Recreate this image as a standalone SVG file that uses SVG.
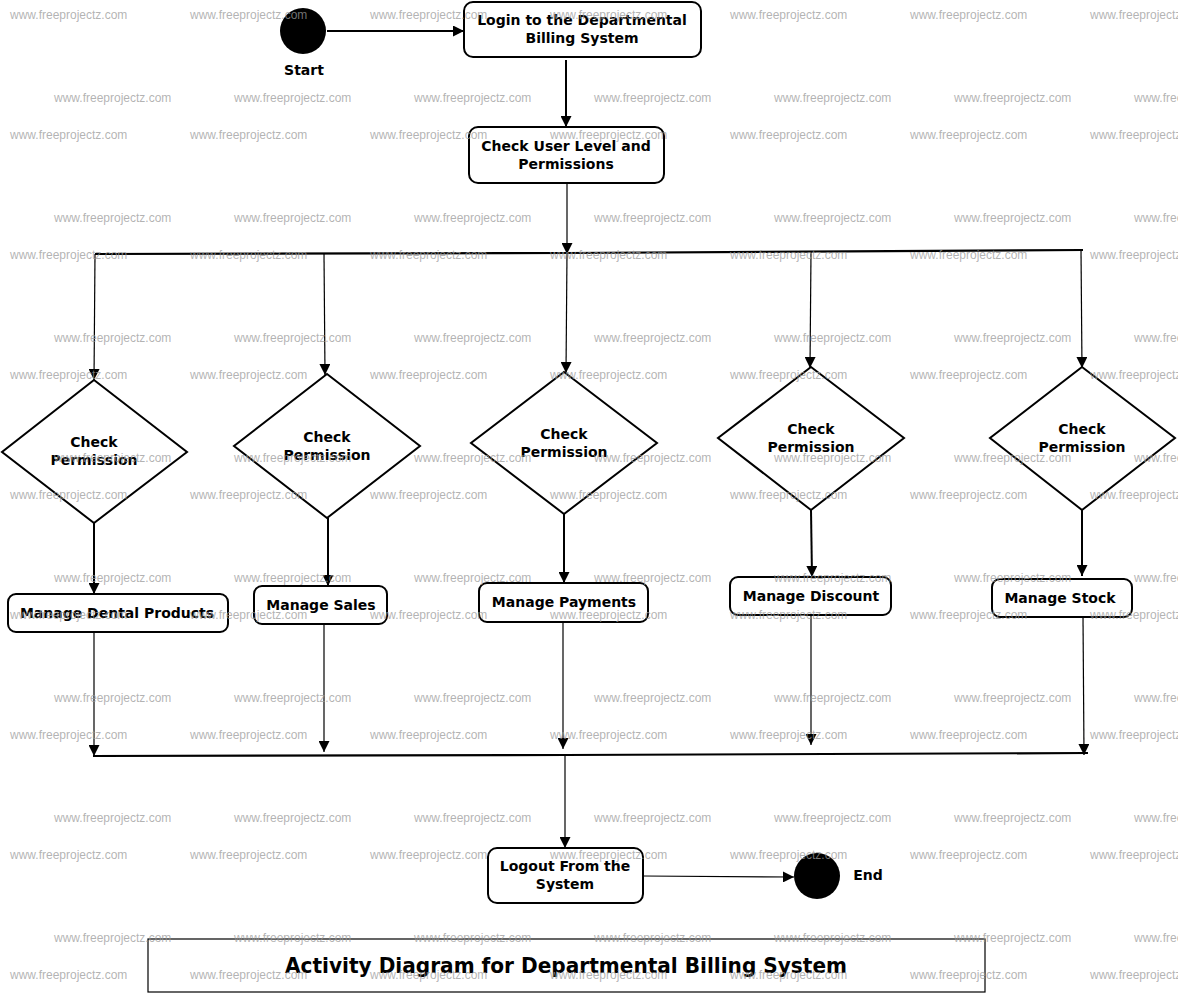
<svg xmlns="http://www.w3.org/2000/svg" width="1178" height="994" viewBox="0 0 1178 994">
<style>
.box{fill:#fff;stroke:#000;stroke-width:2}
.dia{fill:#fff;stroke:#000;stroke-width:2}
.t{font-family:"DejaVu Sans","Liberation Sans",sans-serif;font-weight:bold;font-size:14px;text-anchor:middle;fill:#000}
.thick{fill:none;stroke:#000;stroke-width:2}
.thin{fill:none;stroke:#000;stroke-width:1.2}
.bar{fill:none;stroke:#000;stroke-width:2.2}
.wm{font-family:"Liberation Sans",Arial,sans-serif;font-size:12px;fill:#9a9a9a;fill-opacity:0.75}
</style>
<defs>
<marker id="ah" viewBox="0 0 10 10" refX="10" refY="5" markerWidth="11" markerHeight="11" markerUnits="userSpaceOnUse" orient="auto">
<path d="M0,0 L10,5 L0,10 z" fill="#000"/>
</marker>
</defs>
<rect width="1178" height="994" fill="#fff"/>

<g id="connectors">
<line class="thick" x1="327" y1="31" x2="464" y2="31" marker-end="url(#ah)"/>
<line class="thick" x1="566" y1="60" x2="566" y2="127" marker-end="url(#ah)"/>
<line class="thin" x1="567" y1="183" x2="567" y2="254" marker-end="url(#ah)"/>
<polyline class="bar" points="95,254 567,253 1083,250"/>
<line class="thin" x1="95" y1="254" x2="94" y2="380" marker-end="url(#ah)"/>
<line class="thin" x1="324" y1="254" x2="325" y2="375" marker-end="url(#ah)"/>
<line class="thin" x1="567" y1="253" x2="566" y2="373" marker-end="url(#ah)"/>
<line class="thin" x1="811" y1="252" x2="810" y2="368" marker-end="url(#ah)"/>
<line class="thin" x1="1081" y1="250" x2="1082" y2="368" marker-end="url(#ah)"/>
<line class="thick" x1="94" y1="523" x2="94" y2="594" marker-end="url(#ah)"/>
<line class="thick" x1="328" y1="518" x2="328" y2="586" marker-end="url(#ah)"/>
<line class="thick" x1="564" y1="514" x2="564" y2="583" marker-end="url(#ah)"/>
<line class="thick" x1="811" y1="510" x2="812" y2="577" marker-end="url(#ah)"/>
<line class="thick" x1="1082" y1="510" x2="1082" y2="576" marker-end="url(#ah)"/>
<line class="thin" x1="94" y1="632" x2="94" y2="756" marker-end="url(#ah)"/>
<line class="thin" x1="324" y1="624" x2="324" y2="752" marker-end="url(#ah)"/>
<line class="thin" x1="563" y1="622" x2="563" y2="749" marker-end="url(#ah)"/>
<line class="thin" x1="811" y1="615" x2="811" y2="745" marker-end="url(#ah)"/>
<line class="thin" x1="1083" y1="617" x2="1084" y2="755" marker-end="url(#ah)"/>
<polyline class="bar" points="93,756 565,755 1088,753"/>
<line class="thin" x1="565" y1="755" x2="565" y2="848" marker-end="url(#ah)"/>
<line class="thin" x1="643" y1="876" x2="794" y2="877" marker-end="url(#ah)"/>
</g>

<g id="start">
<circle cx="303" cy="31" r="23" fill="#000"/>
<text class="t" x="304" y="75">Start</text>
</g>
<g id="login">
<rect class="box" x="464" y="2" width="237" height="55" rx="9"/>
<text class="t" x="582" y="25">Login to the Departmental</text>
<text class="t" x="582" y="43">Billing System</text>
</g>
<g id="checkUser">
<rect class="box" x="469" y="127" width="195" height="56" rx="9"/>
<text class="t" x="566" y="151">Check User Level and</text>
<text class="t" x="566" y="169">Permissions</text>
</g>

<g id="perm1">
<polygon class="dia" points="94,380 187,452 94,523 2,452"/>
<text class="t" x="94" y="447">Check</text>
<text class="t" x="94" y="465">Permission</text>
</g>
<g id="perm2">
<polygon class="dia" points="327,374 420,446 327,518 234,446"/>
<text class="t" x="327" y="442">Check</text>
<text class="t" x="327" y="460">Permission</text>
</g>
<g id="perm3">
<polygon class="dia" points="564,372 657,443 564,514 471,443"/>
<text class="t" x="564" y="439">Check</text>
<text class="t" x="564" y="457">Permission</text>
</g>
<g id="perm4">
<polygon class="dia" points="811,367 904,438 811,510 718,438"/>
<text class="t" x="811" y="434">Check</text>
<text class="t" x="811" y="452">Permission</text>
</g>
<g id="perm5">
<polygon class="dia" points="1082,367 1175,438 1082,510 990,438"/>
<text class="t" x="1082" y="434">Check</text>
<text class="t" x="1082" y="452">Permission</text>
</g>

<g id="dental">
<rect class="box" x="8" y="594" width="220" height="38" rx="8"/>
<text class="t" x="117" y="618">Manage Dental Products</text>
</g>
<g id="sales">
<rect class="box" x="254" y="586" width="133" height="38" rx="8"/>
<text class="t" x="321" y="610">Manage Sales</text>
</g>
<g id="payments">
<rect class="box" x="479" y="583" width="169" height="39" rx="8"/>
<text class="t" x="564" y="607">Manage Payments</text>
</g>
<g id="discount">
<rect class="box" x="730" y="577" width="161" height="38" rx="8"/>
<text class="t" x="811" y="601">Manage Discount</text>
</g>
<g id="stock">
<rect class="box" x="992" y="579" width="140" height="38" rx="8"/>
<text class="t" x="1060" y="603">Manage Stock</text>
</g>

<g id="logout">
<rect class="box" x="488" y="848" width="155" height="55" rx="9"/>
<text class="t" x="565" y="871">Logout From the</text>
<text class="t" x="565" y="889">System</text>
</g>
<g id="end">
<circle cx="817" cy="876" r="23" fill="#000"/>
<text class="t" x="868" y="880">End</text>
</g>

<g id="title">
<rect x="148" y="939" width="837" height="53" fill="#fff" stroke="#000" stroke-width="1.2"/>
<text x="566" y="973" font-family="'DejaVu Sans Condensed','DejaVu Sans',sans-serif" font-weight="bold" font-size="21" text-anchor="middle" textLength="562" lengthAdjust="spacingAndGlyphs">Activity Diagram for Departmental Billing System</text>
</g>

<g id="watermarks" class="wm">
<text x="10" y="19">www.freeprojectz.com</text><text x="190" y="19">www.freeprojectz.com</text><text x="370" y="19">www.freeprojectz.com</text><text x="550" y="19">www.freeprojectz.com</text><text x="730" y="19">www.freeprojectz.com</text><text x="910" y="19">www.freeprojectz.com</text><text x="1090" y="19">www.freeprojectz.com</text>
<text x="54" y="102">www.freeprojectz.com</text><text x="234" y="102">www.freeprojectz.com</text><text x="414" y="102">www.freeprojectz.com</text><text x="594" y="102">www.freeprojectz.com</text><text x="774" y="102">www.freeprojectz.com</text><text x="954" y="102">www.freeprojectz.com</text><text x="1134" y="102">www.freeprojectz.com</text>
<text x="10" y="139">www.freeprojectz.com</text><text x="190" y="139">www.freeprojectz.com</text><text x="370" y="139">www.freeprojectz.com</text><text x="550" y="139">www.freeprojectz.com</text><text x="730" y="139">www.freeprojectz.com</text><text x="910" y="139">www.freeprojectz.com</text><text x="1090" y="139">www.freeprojectz.com</text>
<text x="54" y="222">www.freeprojectz.com</text><text x="234" y="222">www.freeprojectz.com</text><text x="414" y="222">www.freeprojectz.com</text><text x="594" y="222">www.freeprojectz.com</text><text x="774" y="222">www.freeprojectz.com</text><text x="954" y="222">www.freeprojectz.com</text><text x="1134" y="222">www.freeprojectz.com</text>
<text x="10" y="259">www.freeprojectz.com</text><text x="190" y="259">www.freeprojectz.com</text><text x="370" y="259">www.freeprojectz.com</text><text x="550" y="259">www.freeprojectz.com</text><text x="730" y="259">www.freeprojectz.com</text><text x="910" y="259">www.freeprojectz.com</text><text x="1090" y="259">www.freeprojectz.com</text>
<text x="54" y="342">www.freeprojectz.com</text><text x="234" y="342">www.freeprojectz.com</text><text x="414" y="342">www.freeprojectz.com</text><text x="594" y="342">www.freeprojectz.com</text><text x="774" y="342">www.freeprojectz.com</text><text x="954" y="342">www.freeprojectz.com</text><text x="1134" y="342">www.freeprojectz.com</text>
<text x="10" y="379">www.freeprojectz.com</text><text x="190" y="379">www.freeprojectz.com</text><text x="370" y="379">www.freeprojectz.com</text><text x="550" y="379">www.freeprojectz.com</text><text x="730" y="379">www.freeprojectz.com</text><text x="910" y="379">www.freeprojectz.com</text><text x="1090" y="379">www.freeprojectz.com</text>
<text x="54" y="462">www.freeprojectz.com</text><text x="234" y="462">www.freeprojectz.com</text><text x="414" y="462">www.freeprojectz.com</text><text x="594" y="462">www.freeprojectz.com</text><text x="774" y="462">www.freeprojectz.com</text><text x="954" y="462">www.freeprojectz.com</text><text x="1134" y="462">www.freeprojectz.com</text>
<text x="10" y="499">www.freeprojectz.com</text><text x="190" y="499">www.freeprojectz.com</text><text x="370" y="499">www.freeprojectz.com</text><text x="550" y="499">www.freeprojectz.com</text><text x="730" y="499">www.freeprojectz.com</text><text x="910" y="499">www.freeprojectz.com</text><text x="1090" y="499">www.freeprojectz.com</text>
<text x="54" y="582">www.freeprojectz.com</text><text x="234" y="582">www.freeprojectz.com</text><text x="414" y="582">www.freeprojectz.com</text><text x="594" y="582">www.freeprojectz.com</text><text x="774" y="582">www.freeprojectz.com</text><text x="954" y="582">www.freeprojectz.com</text><text x="1134" y="582">www.freeprojectz.com</text>
<text x="10" y="619">www.freeprojectz.com</text><text x="190" y="619">www.freeprojectz.com</text><text x="370" y="619">www.freeprojectz.com</text><text x="550" y="619">www.freeprojectz.com</text><text x="730" y="619">www.freeprojectz.com</text><text x="910" y="619">www.freeprojectz.com</text><text x="1090" y="619">www.freeprojectz.com</text>
<text x="54" y="702">www.freeprojectz.com</text><text x="234" y="702">www.freeprojectz.com</text><text x="414" y="702">www.freeprojectz.com</text><text x="594" y="702">www.freeprojectz.com</text><text x="774" y="702">www.freeprojectz.com</text><text x="954" y="702">www.freeprojectz.com</text><text x="1134" y="702">www.freeprojectz.com</text>
<text x="10" y="739">www.freeprojectz.com</text><text x="190" y="739">www.freeprojectz.com</text><text x="370" y="739">www.freeprojectz.com</text><text x="550" y="739">www.freeprojectz.com</text><text x="730" y="739">www.freeprojectz.com</text><text x="910" y="739">www.freeprojectz.com</text><text x="1090" y="739">www.freeprojectz.com</text>
<text x="54" y="822">www.freeprojectz.com</text><text x="234" y="822">www.freeprojectz.com</text><text x="414" y="822">www.freeprojectz.com</text><text x="594" y="822">www.freeprojectz.com</text><text x="774" y="822">www.freeprojectz.com</text><text x="954" y="822">www.freeprojectz.com</text><text x="1134" y="822">www.freeprojectz.com</text>
<text x="10" y="859">www.freeprojectz.com</text><text x="190" y="859">www.freeprojectz.com</text><text x="370" y="859">www.freeprojectz.com</text><text x="550" y="859">www.freeprojectz.com</text><text x="730" y="859">www.freeprojectz.com</text><text x="910" y="859">www.freeprojectz.com</text><text x="1090" y="859">www.freeprojectz.com</text>
<text x="54" y="942">www.freeprojectz.com</text><text x="234" y="942">www.freeprojectz.com</text><text x="414" y="942">www.freeprojectz.com</text><text x="594" y="942">www.freeprojectz.com</text><text x="774" y="942">www.freeprojectz.com</text><text x="954" y="942">www.freeprojectz.com</text><text x="1134" y="942">www.freeprojectz.com</text>
<text x="10" y="979">www.freeprojectz.com</text><text x="190" y="979">www.freeprojectz.com</text><text x="370" y="979">www.freeprojectz.com</text><text x="550" y="979">www.freeprojectz.com</text><text x="730" y="979">www.freeprojectz.com</text><text x="910" y="979">www.freeprojectz.com</text><text x="1090" y="979">www.freeprojectz.com</text>
</g>
</svg>
